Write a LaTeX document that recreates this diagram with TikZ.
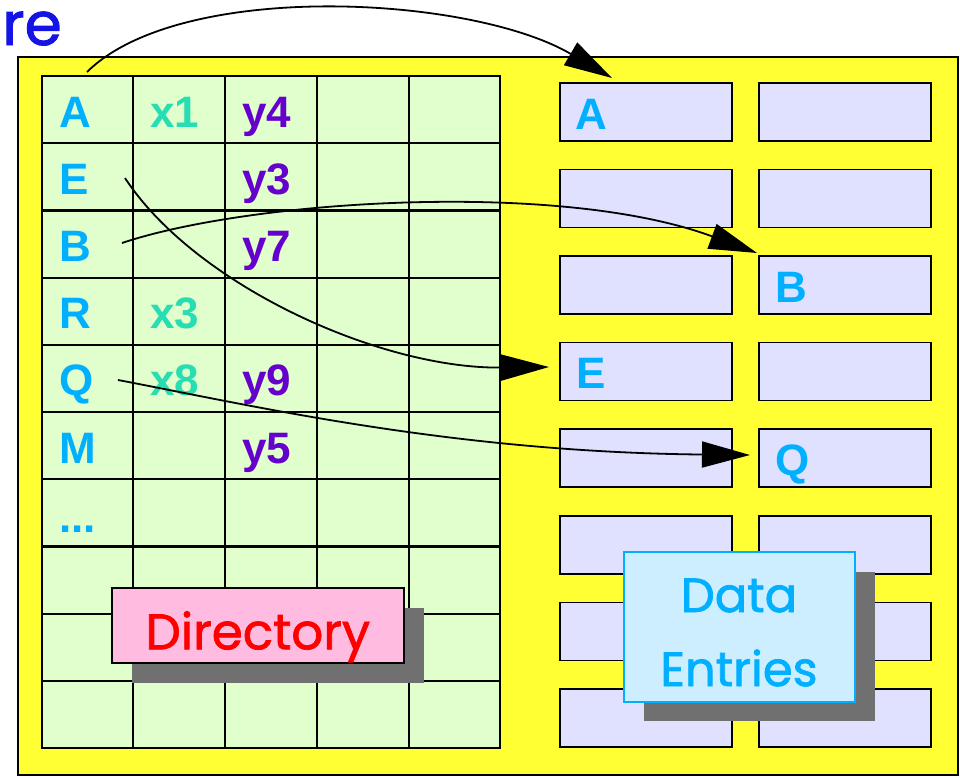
\documentclass[tikz,border=0pt]{standalone}
\usepackage{fontspec}
\setmainfont{Liberation Sans}
\newfontfamily\comicfont{Poppins}[FakeBold=1.5]
\usetikzlibrary{arrows.meta}
\definecolor{yel}{RGB}{255,255,51}
\definecolor{gridgreen}{RGB}{224,255,204}
\definecolor{lav}{RGB}{224,224,255}
\definecolor{keycyan}{RGB}{0,176,255}
\definecolor{xteal}{RGB}{38,222,178}
\definecolor{ypurple}{RGB}{102,0,204}
\definecolor{dirpink}{RGB}{255,187,224}
\definecolor{datacyan}{RGB}{204,238,255}
\definecolor{shadowgray}{RGB}{112,112,112}
\definecolor{titleblue}{RGB}{20,20,230}
\tikzset{
  gridline/.style={line width=2.2pt},
  cell/.style={anchor=base west, inner sep=0pt, font=\fontsize{44}{48}\selectfont\bfseries},
  keytxt/.style={cell, text=keycyan},
  xtxt/.style={cell, text=xteal},
  ytxt/.style={cell, text=ypurple},
  databox/.style={draw, fill=lav, line width=1.6pt, minimum width=172pt, minimum height=58pt, anchor=north west, inner sep=0pt},
  arr/.style={line width=1.8pt, -{Triangle[length=48pt,width=26pt]}},
  shadowbox/.style={fill=shadowgray},
}
\begin{document}
\begin{tikzpicture}[x=1pt,y=-1pt]
\useasboundingbox (0,0) rectangle (960,777);
% title fragment
\node[anchor=base east, inner sep=0pt, text=titleblue, font=\comicfont\fontsize{60}{64}\selectfont] (title) at (62,45) {re};
% outer yellow frame
\draw[fill=yel, line width=1.5pt] (18,57) rectangle (958,775);
% directory grid
\draw[fill=gridgreen, gridline] (42,76) rectangle (500,748);
\foreach \x in {133,225,317,409} \draw[gridline] (\x,76) -- (\x,748);
\foreach \i in {1,...,9} \draw[gridline] (42,{76+67.2*\i}) -- (500,{76+67.2*\i});
% directory entries
\node[keytxt] (kA) at (59,127) {A};
\node[xtxt]   (x1) at (150,127) {x1};
\node[ytxt]   (y4) at (242,127) {y4};
\node[keytxt] (kE) at (59,194.2) {E};
\node[ytxt]   (y3) at (242,194.2) {y3};
\node[keytxt] (kB) at (59,261.4) {B};
\node[ytxt]   (y7) at (242,261.4) {y7};
\node[keytxt] (kR) at (59,328.6) {R};
\node[xtxt]   (x3) at (150,328.6) {x3};
\node[keytxt] (kQ) at (59,395.8) {Q};
\node[xtxt]   (x8) at (150,395.8) {x8};
\node[ytxt]   (y9) at (242,395.8) {y9};
\node[keytxt] (kM) at (59,463) {M};
\node[ytxt]   (y5) at (242,463) {y5};
\node[keytxt] (kdots) at (59,532) {...};
% data entry boxes
\foreach \r in {0,...,7} {
  \node[databox] (dL\r) at (559,{82+86.6*\r}) {};
  \node[databox] (dR\r) at (758,{82+86.6*\r}) {};
}
\node[keytxt] (eA) at (575,129) {A};
\node[keytxt] (eE) at (576,388.8) {E};
\node[keytxt] (eB) at (775,302) {B};
\node[keytxt] (eQ) at (775,475) {Q};
% arrow end points
\coordinate (sA) at (87,72);
\coordinate (tA) at (612,78);
\coordinate (sE) at (125,178);
\coordinate (tE) at (549,367);
\coordinate (sB) at (122,243);
\coordinate (tB) at (757,253);
\coordinate (sQ) at (118,380);
\coordinate (tQ) at (750,455);
\draw[arr] (sA) .. controls (180,-20) and (470,-5) .. (tA);
\draw[arr] (sE) .. controls (195,285) and (380,369) .. (tE);
\draw[arr] (sB) .. controls (250,200) and (560,180) .. (tB);
\draw[arr] (sQ) .. controls (250,405) and (450,452) .. (tQ);
% Directory label
\fill[shadowbox] (132,608) rectangle (424,683);
\node[draw, fill=dirpink, line width=1.6pt, minimum width=292pt, minimum height=75pt, anchor=north west, inner sep=0pt] (dir) at (111,587) {};
\node[text=red, anchor=base, inner sep=0pt, font=\comicfont\fontsize{50}{54}\selectfont] (dirtxt) at ([yshift=-24pt]dir.center) {Directory};
% Data Entries label
\fill[shadowbox] (644,572) rectangle (875,721);
\node[draw=keycyan, fill=datacyan, line width=1.6pt, minimum width=231pt, minimum height=150pt, anchor=north west, inner sep=0pt] (data) at (623,551) {};
\node[text=keycyan, anchor=base, inner sep=0pt, font=\comicfont\fontsize{48}{52}\selectfont] (datatxt1) at (739,612) {Data};
\node[text=keycyan, anchor=base, inner sep=0pt, font=\comicfont\fontsize{48}{52}\selectfont] (datatxt2) at (739,686) {Entries};
\end{tikzpicture}
\end{document}
